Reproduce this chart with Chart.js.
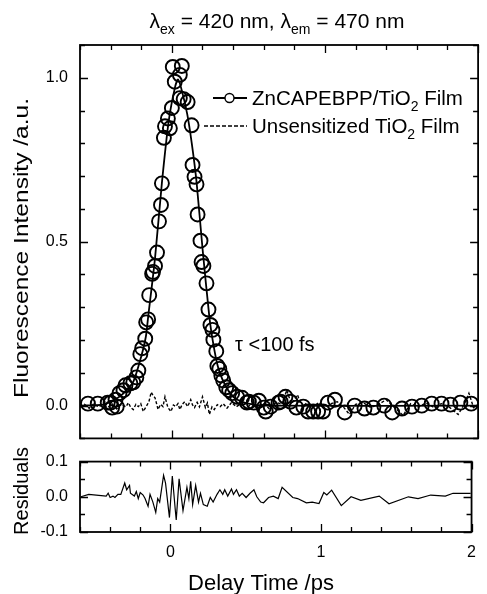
<!DOCTYPE html>
<html>
<head>
<meta charset="utf-8">
<script src="https://cdn.jsdelivr.net/npm/chart.js@4.4.1/dist/chart.umd.min.js"></script>
<style>
  html, body { margin: 0; padding: 0; background: #fff; }
  #wrap { position: relative; width: 487px; height: 594px; overflow: hidden; background: #fff; }
  canvas { position: absolute; left: 0; }
  #grafPrincipal { top: 0; }
  #grafResiduos { top: 440px; }
</style>
</head>
<body>
<div id="wrap">
  <canvas id="grafResiduos" width="487" height="154"></canvas>
  <canvas id="grafPrincipal" width="487" height="460"></canvas>
</div>
<script>
// Datos (tiempo en ps)
const tiempoDatos = [-0.548, -0.484, -0.419, -0.400, -0.390, -0.368, -0.360, -0.342, -0.316, -0.303, -0.271, -0.252,
  -0.232, -0.219, -0.206, -0.194, -0.174, -0.168, -0.155, -0.148, -0.129, -0.123, -0.110, -0.097, -0.084, -0.071,
  -0.065, -0.052, -0.045, -0.026, -0.013, 0.000, 0.019, 0.006, 0.052, 0.065, 0.052, 0.077, 0.103, 0.129, 0.135,
  0.148, 0.161, 0.168, 0.187, 0.194, 0.206, 0.226, 0.239, 0.252, 0.265, 0.271, 0.290, 0.297, 0.310, 0.323, 0.335,
  0.355, 0.374, 0.394, 0.426, 0.458, 0.490, 0.503, 0.535, 0.568, 0.600, 0.613, 0.645, 0.697, 0.710, 0.742, 0.774,
  0.813, 0.858, 0.890, 0.923, 0.955, 0.987, 1.019, 1.065, 1.129, 1.194, 1.258, 1.316, 1.387, 1.439, 1.503, 1.568,
  1.632, 1.697, 1.761, 1.819, 1.884, 1.955];
const intensidadDatos = [0.006, 0.006, 0.009, 0.009, -0.006, 0.018, -0.003, 0.038, 0.047, 0.062, 0.068, 0.071,
  0.086, 0.107, 0.157, 0.175, 0.204, 0.254, 0.263, 0.337, 0.402, 0.408, 0.426, 0.467, 0.562, 0.612,
  0.678, 0.817, 0.852, 0.876, 0.846, 0.908, 0.988, 1.033, 1.009, 1.036, 0.938, 0.935, 0.926, 0.855, 0.734,
  0.698, 0.675, 0.583, 0.503, 0.438, 0.426, 0.373, 0.293, 0.246, 0.231, 0.201, 0.166, 0.121, 0.112, 0.092, 0.077,
  0.056, 0.047, 0.038, 0.027, 0.024, 0.009, 0.012, 0.009, 0.015, -0.006, -0.018, -0.003, 0.009, 0.012, 0.027, 0.012,
  -0.006, -0.003, -0.018, -0.018, -0.018, -0.018, 0.009, 0.018, -0.021, 0.000, -0.009, -0.006, 0.000, -0.021, -0.009, -0.003,
  0.000, 0.006, 0.006, 0.003, 0.009, 0.006];

// Curva de ajuste (linea continua)
const tiempoAjuste = [-0.6, -0.45, -0.35, -0.3, -0.25, -0.2, -0.17, -0.155, -0.11, -0.065, -0.02, 0.02, 0.04, 0.06,
  0.1, 0.13, 0.161, 0.2, 0.245, 0.27, 0.3, 0.33, 0.37, 0.42, 0.5, 0.6, 2.0];
const intensidadAjuste = [0, 0.003, 0.025, 0.045, 0.075, 0.15, 0.21, 0.27, 0.45, 0.68, 0.87, 0.97, 0.995, 0.97,
  0.89, 0.80, 0.683, 0.48, 0.27, 0.19, 0.12, 0.08, 0.045, 0.02, 0.006, 0, 0];

// Pelicula de TiO2 sin sensibilizar (linea discontinua)
const tiempoTiO2 = [-0.60, -0.57, -0.54, -0.51, -0.48, -0.45, -0.42, -0.39, -0.36, -0.33, -0.30, -0.284, -0.268, -0.252,
  -0.235, -0.219, -0.203, -0.187, -0.168, -0.150, -0.135, -0.122, -0.110, -0.090, -0.074, -0.058, -0.045, -0.026, -0.006,
  0.010, 0.026, 0.040, 0.052, 0.068, 0.084, 0.103, 0.123, 0.135, 0.148, 0.165, 0.180, 0.200, 0.219, 0.232, 0.245, 0.262,
  0.277, 0.297, 0.316, 0.335, 0.36, 0.39, 0.42, 0.45, 0.48, 0.52, 0.56, 0.60, 0.64, 0.68, 0.72, 0.75, 0.78, 0.82, 0.85,
  0.88, 0.92, 0.96, 1.00, 1.04, 1.08, 1.12, 1.16, 1.20, 1.25, 1.30, 1.35, 1.40, 1.45, 1.51, 1.56, 1.61, 1.66, 1.71,
  1.76, 1.81, 1.87, 1.91, 1.94, 1.97, 2.0];
const intensidadTiO2 = [-0.005, 0.004, -0.008, 0.006, -0.004, 0.003, -0.006, 0.005, -0.010, 0.004, -0.004, 0.009, -0.006, -0.012,
  0.004, -0.003, 0.006, -0.018, -0.003, 0.012, 0.041, 0.030, 0.024, -0.012, 0.004, -0.003, 0.027, -0.006, -0.018,
  0.002, -0.003, 0.006, -0.012, 0.004, 0.012, -0.003, 0.018, 0.002, -0.006, 0.010, -0.004, 0.027, -0.006, 0.008, -0.027, -0.004,
  -0.012, 0.003, -0.003, 0.006, -0.008, 0.010, -0.004, 0.006, -0.010, 0.005, -0.006, 0.008, -0.012, 0.010, 0.004, 0.047, 0.006, 0.033, -0.004,
  0.008, -0.006, 0.010, -0.008, 0.006, 0.012, -0.004, -0.027, 0.004, 0.009, -0.006, 0.004, 0.018, -0.004, -0.030, 0.006, -0.004, 0.008, -0.005,
  0.006, -0.004, -0.027, 0.005, 0.038, -0.006, 0.004];

// Residuos
const tiempoResiduos = [-0.594, -0.542, -0.426, -0.413, -0.400, -0.381, -0.368, -0.348, -0.329, -0.303, -0.290, -0.271,
  -0.265, -0.239, -0.226, -0.213, -0.200, -0.181, -0.168, -0.148, -0.135, -0.116, -0.097, -0.084, -0.071, -0.045,
  -0.032, -0.006, 0.013, 0.032, 0.039, 0.058, 0.084, 0.110, 0.123, 0.135, 0.148, 0.168, 0.187, 0.200, 0.219, 0.245,
  0.265, 0.284, 0.310, 0.329, 0.348, 0.361, 0.381, 0.406, 0.419, 0.439, 0.458, 0.477, 0.503, 0.529, 0.555, 0.574,
  0.600, 0.619, 0.652, 0.684, 0.716, 0.742, 0.813, 0.845, 0.903, 0.942, 0.987, 1.019, 1.039, 1.071, 1.135, 1.200,
  1.265, 1.387, 1.452, 1.581, 1.645, 1.729, 1.826, 1.877, 1.994];
const valoresResiduos = [0.000, 0.007, 0.002, 0.010, -0.002, 0.002, -0.002, 0.007, 0.007, 0.039, 0.020, 0.032,
  0.010, 0.002, 0.015, -0.005, 0.012, 0.005, -0.005, -0.027, 0.007, -0.015, -0.044, -0.005, -0.015, 0.061,
  0.039, -0.059, 0.059, -0.034, -0.066, 0.051, -0.039, 0.027, -0.005, 0.044, -0.022, 0.032, -0.015, 0.010, -0.022, -0.027,
  -0.002, -0.015, 0.007, 0.020, 0.007, 0.020, 0.002, 0.022, 0.007, 0.020, 0.002, 0.010, -0.002, 0.010, 0.020, 0.000,
  -0.015, -0.017, -0.002, 0.002, -0.005, 0.027, -0.002, -0.005, -0.017, -0.015, -0.019, 0.012, 0.005, 0.019, -0.025, 0.000,
  -0.010, 0.002, -0.020, 0.000, -0.005, 0.005, 0.002, 0.010, 0.010];

// Marcas de los ejes
const marcasX = [-0.6, -0.4, -0.2, 0, 0.2, 0.4, 0.6, 0.8, 1, 1.2, 1.4, 1.6, 1.8, 2];
const etiquetasX = [0, 1, 2];
const marcasY = [-0.1, 0, 0.1, 0.2, 0.3, 0.4, 0.5, 0.6, 0.7, 0.8, 0.9, 1.0, 1.1];
const etiquetasY = [0, 0.5, 1.0];
const marcasRes = [-0.1, -0.05, 0, 0.05, 0.1];
const etiquetasRes = [-0.1, 0, 0.1];

const FUENTE = '"Liberation Sans", Arial, Helvetica, sans-serif';

function aPuntos(xs, ys) {
  return xs.map((x, i) => ({ x: x, y: ys[i] }));
}

function esta(lista, v) {
  return lista.some(m => Math.abs(m - v) < 1e-6);
}

function etiqueta(v) {
  return Math.abs(v) < 1e-9 ? '0.0' : v.toFixed(1);
}

// Marco con marcas hacia adentro en los cuatro lados
function dibujarMarco(chart, marcasVert, etiquetasVert) {
  const ctx = chart.ctx, a = chart.chartArea;
  const sx = chart.scales.x, sy = chart.scales.y;
  ctx.save();
  ctx.strokeStyle = '#000';
  ctx.lineWidth = 1.3;
  ctx.beginPath();
  marcasX.forEach(v => {
    const px = Math.round(sx.getPixelForValue(v)) + 0.5;
    const largo = esta(etiquetasX, v) ? 8 : 5;
    ctx.moveTo(px, a.top); ctx.lineTo(px, a.top + largo);
    ctx.moveTo(px, a.bottom); ctx.lineTo(px, a.bottom - largo);
  });
  marcasVert.forEach(v => {
    const py = Math.round(sy.getPixelForValue(v)) + 0.5;
    const largo = esta(etiquetasVert, v) ? 8 : 5;
    ctx.moveTo(a.left, py); ctx.lineTo(a.left + largo, py);
    ctx.moveTo(a.right, py); ctx.lineTo(a.right - largo, py);
  });
  ctx.stroke();
  ctx.lineWidth = 1.8;
  ctx.strokeRect(a.left, a.top, a.right - a.left, a.bottom - a.top);
  ctx.restore();
}

// Texto con subindices: partes = [[texto, esSub], ...]
function textoRico(ctx, partes, x, y, tam, centrado) {
  const tamSub = Math.round(tam * 0.68);
  ctx.save();
  ctx.fillStyle = '#000';
  ctx.textAlign = 'left';
  ctx.textBaseline = 'alphabetic';
  let ancho = 0;
  partes.forEach(p => {
    ctx.font = (p[1] ? tamSub : tam) + 'px ' + FUENTE;
    ancho += ctx.measureText(p[0]).width;
  });
  let cx = centrado ? x - ancho / 2 : x;
  partes.forEach(p => {
    ctx.font = (p[1] ? tamSub : tam) + 'px ' + FUENTE;
    ctx.fillText(p[0], cx, p[1] ? y + tam * 0.3 : y);
    cx += ctx.measureText(p[0]).width;
  });
  ctx.restore();
}

// Texto girado; "largo" estira el texto hasta ese ancho si se indica
function textoVertical(ctx, texto, x, y, tam, largo) {
  ctx.save();
  ctx.translate(x, y);
  ctx.rotate(-Math.PI / 2);
  ctx.fillStyle = '#000';
  ctx.font = tam + 'px ' + FUENTE;
  ctx.textAlign = 'center';
  ctx.textBaseline = 'middle';
  if (largo) {
    const w = ctx.measureText(texto).width;
    ctx.scale(largo / w, 1);
  }
  ctx.fillText(texto, 0, 0);
  ctx.restore();
}

const pluginPrincipal = {
  id: 'extrasPrincipal',
  afterDraw(chart) {
    const ctx = chart.ctx;
    dibujarMarco(chart, marcasY, etiquetasY);

    // titulo
    textoRico(ctx, [['λ', false], ['ex', true], [' = 420 nm, ', false], ['λ', false], ['em', true], [' = 470 nm', false]],
      277, 28, 21, true);

    // eje y
    textoVertical(ctx, 'Fluorescence Intensity /a.u.', 22, 248, 21, 300);

    // leyenda
    ctx.save();
    ctx.strokeStyle = '#000';
    ctx.lineWidth = 2;
    ctx.beginPath();
    ctx.moveTo(213, 98); ctx.lineTo(225, 98);
    ctx.moveTo(234, 98); ctx.lineTo(247, 98);
    ctx.stroke();
    ctx.lineWidth = 1.4;
    ctx.beginPath();
    ctx.arc(229.5, 98, 4.5, 0, Math.PI * 2);
    ctx.stroke();
    ctx.lineWidth = 1.3;
    ctx.setLineDash([4, 2]);
    ctx.beginPath();
    ctx.moveTo(204, 126); ctx.lineTo(247, 126);
    ctx.stroke();
    ctx.restore();
    textoRico(ctx, [['ZnCAPEBPP/TiO', false], ['2', true], [' Film', false]], 252, 105, 20.5, false);
    textoRico(ctx, [['Unsensitized TiO', false], ['2', true], [' Film', false]], 252, 133, 20.5, false);

    // anotacion
    textoRico(ctx, [['τ <100 fs', false]], 235, 351, 20, false);
  }
};

const pluginResiduos = {
  id: 'extrasResiduos',
  afterDraw(chart) {
    const ctx = chart.ctx;
    dibujarMarco(chart, marcasRes, etiquetasRes);
    textoVertical(ctx, 'Residuals', 22, 51, 20);
    textoRico(ctx, [['Delay Time /ps', false]], 261, 150, 22, true);
  }
};

const fuenteTicks = { family: FUENTE, size: 16 };

new Chart(document.getElementById('grafPrincipal'), {
  type: 'scatter',
  data: {
    datasets: [
      {
        label: 'Unsensitized TiO2 Film',
        data: aPuntos(tiempoTiO2, intensidadTiO2),
        showLine: true,
        borderColor: '#000',
        borderWidth: 1.4,
        borderDash: [3, 2],
        pointRadius: 0,
        tension: 0
      },
      {
        label: 'ajuste',
        data: aPuntos(tiempoAjuste, intensidadAjuste),
        showLine: true,
        borderColor: '#000',
        borderWidth: 1.8,
        pointRadius: 0,
        tension: 0.25
      },
      {
        label: 'ZnCAPEBPP/TiO2 Film',
        data: aPuntos(tiempoDatos, intensidadDatos),
        showLine: false,
        pointRadius: 7,
        pointBorderWidth: 1.9,
        pointBorderColor: '#000',
        pointBackgroundColor: 'rgba(0,0,0,0)'
      }
    ]
  },
  options: {
    responsive: false,
    animation: false,
    devicePixelRatio: 1,
    layout: { padding: { left: 0, right: 6, top: 45, bottom: 9 } },
    plugins: { legend: { display: false }, tooltip: { enabled: false } },
    scales: {
      x: { type: 'linear', min: -0.6, max: 2, display: false },
      y: {
        type: 'linear', min: -0.1, max: 1.1,
        grid: { display: false, drawTicks: false },
        border: { display: false },
        ticks: {
          stepSize: 0.1, padding: 12, color: '#000', font: fuenteTicks, autoSkip: false,
          callback: v => esta(etiquetasY, v) ? etiqueta(v) : null
        },
        afterFit: s => { s.width = 80; }
      }
    }
  },
  plugins: [pluginPrincipal]
});

new Chart(document.getElementById('grafResiduos'), {
  type: 'scatter',
  data: {
    datasets: [{
      label: 'Residuals',
      data: aPuntos(tiempoResiduos, valoresResiduos),
      showLine: true,
      borderColor: '#000',
      borderWidth: 1.2,
      pointRadius: 0
    }]
  },
  options: {
    responsive: false,
    animation: false,
    devicePixelRatio: 1,
    layout: { padding: { left: 0, right: 6, top: 11, bottom: 0 } },
    plugins: { legend: { display: false }, tooltip: { enabled: false } },
    scales: {
      x: {
        type: 'linear', min: -0.6, max: 2,
        grid: { display: false, drawTicks: false },
        border: { display: false },
        ticks: {
          stepSize: 0.2, padding: 11, color: '#000', font: fuenteTicks, autoSkip: false, maxRotation: 0,
          callback: v => esta(etiquetasX, v) ? String(Math.round(v)) : null
        },
        afterFit: s => { s.height = 62; }
      },
      y: {
        type: 'linear', min: -0.1, max: 0.1,
        grid: { display: false, drawTicks: false },
        border: { display: false },
        ticks: {
          stepSize: 0.05, padding: 12, color: '#000', font: fuenteTicks, autoSkip: false,
          callback: v => esta(etiquetasRes, v) ? etiqueta(v) : null
        },
        afterFit: s => { s.width = 80; }
      }
    }
  },
  plugins: [pluginResiduos]
});
</script>
</body>
</html>
